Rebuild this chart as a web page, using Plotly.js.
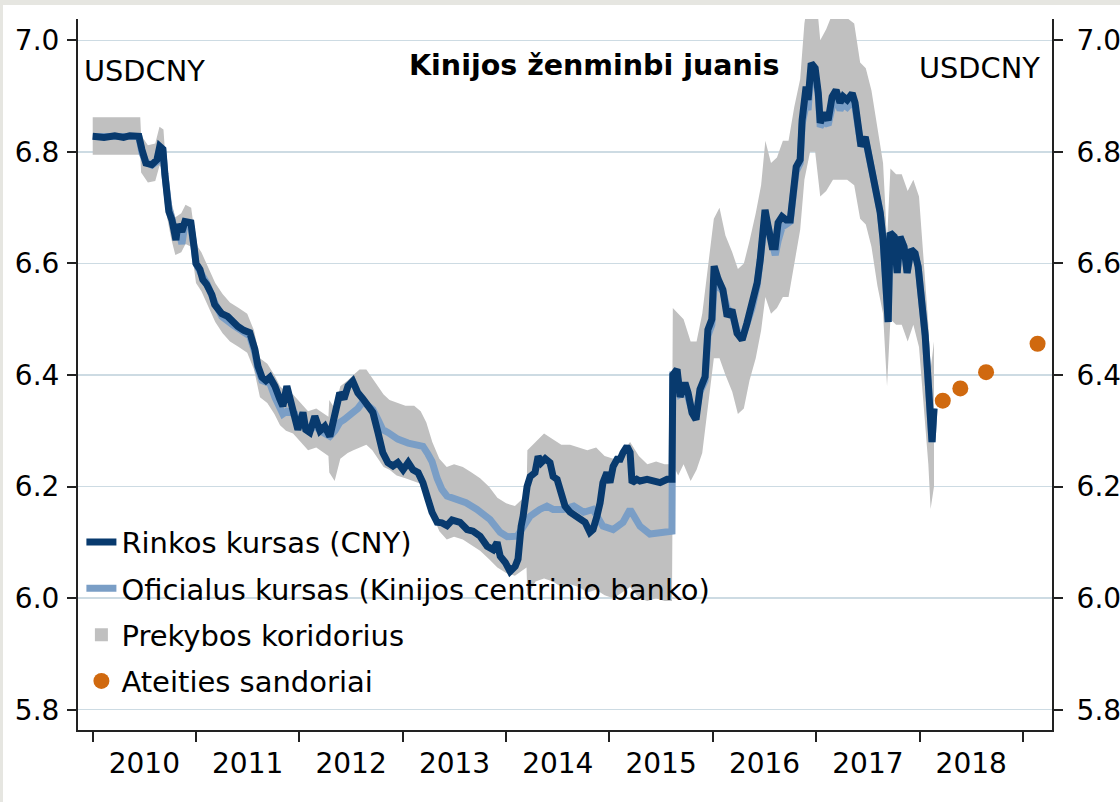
<!DOCTYPE html>
<html><head><meta charset="utf-8">
<script src="https://cdn.plot.ly/plotly-3.0.1.min.js"></script>
<style>
html,body{margin:0;padding:0;background:#e6e6e1;width:1120px;height:802px;overflow:hidden}
#chart{position:absolute;left:3px;top:5px;width:1117px;height:797px;background:#fff}
</style></head><body><div id="chart"></div>
<script>
// ---- Market rate (CNY) ----
const mktDates = [
'2010-01-01','2010-02-10','2010-03-20','2010-04-20','2010-05-12','2010-06-13','2010-06-24','2010-07-08','2010-07-29','2010-08-16','2010-08-26','2010-09-06','2010-09-13','2010-09-20','2010-09-27','2010-10-08','2010-10-15','2010-10-22','2010-10-29','2010-11-12','2010-11-23','2010-12-14','2010-12-25',
'2011-01-01','2011-01-15','2011-01-25','2011-02-08','2011-02-26','2011-03-08','2011-03-19','2011-04-02','2011-04-23','2011-05-11','2011-05-29','2011-06-19','2011-07-10','2011-07-28','2011-08-08','2011-08-22','2011-09-05','2011-09-19','2011-10-07','2011-10-24','2011-11-04','2011-11-18','2011-11-29','2011-12-16','2011-12-27',
'2012-01-14','2012-01-24','2012-02-07','2012-02-25','2012-03-14','2012-03-31','2012-04-18','2012-05-06','2012-05-23','2012-06-07','2012-06-21','2012-07-08','2012-07-26','2012-08-13','2012-08-31','2012-09-17','2012-10-05','2012-10-22','2012-11-09','2012-11-27','2012-12-14',
'2013-01-02','2013-01-20','2013-02-06','2013-02-24','2013-03-13','2013-03-31','2013-04-14','2013-05-02','2013-05-19','2013-06-06','2013-06-24','2013-07-22','2013-08-16','2013-09-06','2013-10-01','2013-10-26','2013-11-16','2013-11-30','2013-12-11','2013-12-29',
'2014-01-15','2014-02-02','2014-02-12','2014-02-23','2014-03-02','2014-03-16','2014-03-27','2014-04-13','2014-04-24','2014-05-05','2014-05-19','2014-06-05','2014-06-16','2014-06-30','2014-07-11','2014-07-28','2014-08-15','2014-09-02','2014-09-19','2014-10-07','2014-10-24','2014-11-04','2014-11-18','2014-11-29','2014-12-09','2014-12-23',
'2015-01-03','2015-01-14','2015-01-28','2015-02-08','2015-02-18','2015-03-04','2015-03-15','2015-03-22','2015-04-08','2015-04-19','2015-05-14','2015-06-04','2015-06-29','2015-07-24','2015-08-10','2015-08-13','2015-08-28','2015-09-08','2015-09-25','2015-10-06','2015-10-20','2015-11-03','2015-11-17','2015-12-05','2015-12-15','2015-12-29',
'2016-01-06','2016-01-20','2016-02-06','2016-02-21','2016-03-09','2016-03-27','2016-04-14','2016-05-01','2016-05-19','2016-06-06','2016-06-17','2016-06-27','2016-07-04','2016-07-15','2016-07-29','2016-08-09','2016-08-19','2016-09-02','2016-09-17','2016-10-01','2016-10-11','2016-10-22','2016-11-05','2016-11-12','2016-11-26','2016-12-03','2016-12-14','2016-12-28',
'2017-01-08','2017-01-15','2017-01-29','2017-02-12','2017-02-26','2017-03-12','2017-03-26','2017-04-06','2017-04-20','2017-05-08','2017-05-18','2017-05-29','2017-06-08','2017-06-23','2017-07-03','2017-07-17','2017-07-31','2017-08-15','2017-08-25','2017-09-05','2017-09-12','2017-09-19','2017-10-03','2017-10-14','2017-10-24','2017-11-07','2017-11-18','2017-12-02','2017-12-16','2017-12-27',
'2018-01-10','2018-01-21','2018-01-28','2018-02-04','2018-02-11','2018-02-14','2018-02-21'
];
const mktVals = [
6.828,6.826,6.829,6.826,6.829,6.828,6.804,6.78,6.777,6.786,6.81,6.805,6.76,6.714,6.693,6.678,6.65,6.642,6.67,6.657,6.675,6.673,6.63,
6.60,6.589,6.571,6.562,6.544,6.526,6.517,6.51,6.505,6.495,6.487,6.48,6.476,6.446,6.416,6.396,6.39,6.396,6.38,6.357,6.344,6.38,6.357,6.333,6.302,
6.333,6.302,6.297,6.326,6.30,6.308,6.29,6.338,6.368,6.357,6.38,6.389,6.368,6.357,6.344,6.333,6.297,6.261,6.243,6.237,6.243,
6.23,6.243,6.23,6.225,6.207,6.177,6.154,6.136,6.135,6.13,6.14,6.136,6.123,6.12,6.111,6.093,6.087,6.10,6.075,6.064,
6.048,6.057,6.07,6.129,6.147,6.20,6.218,6.225,6.254,6.243,6.25,6.243,6.218,6.213,6.189,6.165,6.154,6.147,6.141,6.136,6.118,6.123,6.147,6.171,6.207,6.225,
6.207,6.236,6.249,6.249,6.261,6.272,6.261,6.207,6.213,6.21,6.213,6.21,6.207,6.213,6.213,6.40,6.41,6.361,6.386,6.368,6.332,6.32,6.374,6.397,6.481,6.50,
6.595,6.572,6.553,6.505,6.517,6.475,6.463,6.493,6.529,6.565,6.607,6.67,6.696,6.666,6.63,6.63,6.673,6.684,6.678,6.678,6.727,6.773,6.786,6.857,6.917,6.893,6.959,6.95,
6.906,6.852,6.87,6.857,6.899,6.911,6.888,6.899,6.893,6.905,6.888,6.845,6.81,6.827,6.798,6.768,6.727,6.691,6.643,6.51,6.495,6.655,6.648,6.583,6.648,6.63,6.583,6.625,6.618,6.594,
6.529,6.47,6.415,6.34,6.29,6.28,6.34
];

// ---- Official rate (central bank fixing) ----
const offDates = [
'2010-01-01','2010-06-13','2010-06-24','2010-07-08','2010-07-29','2010-08-16','2010-08-26','2010-09-06','2010-09-13','2010-09-20','2010-09-27','2010-10-08','2010-10-15','2010-10-22','2010-10-29','2010-11-12','2010-11-23','2010-12-14','2010-12-25',
'2011-01-01','2011-01-15','2011-02-08','2011-03-08','2011-04-02','2011-05-11','2011-06-19','2011-07-10','2011-07-28','2011-08-08','2011-08-22','2011-09-19','2011-10-07','2011-10-24','2011-11-04','2011-11-18','2011-12-16','2011-12-27',
'2012-01-14','2012-02-07','2012-02-25','2012-03-14','2012-04-18','2012-05-06','2012-05-23','2012-06-07','2012-06-21','2012-07-08','2012-07-26','2012-08-13','2012-08-31','2012-09-17','2012-10-05','2012-10-22','2012-11-09','2012-12-14',
'2013-01-20','2013-02-24','2013-03-13','2013-03-31','2013-04-14','2013-05-02','2013-05-19','2013-06-06','2013-07-08','2013-08-12','2013-09-20','2013-11-05','2013-12-11',
'2014-01-05','2014-02-09','2014-03-02','2014-03-27','2014-04-30','2014-05-25','2014-06-16','2014-07-22','2014-08-28','2014-10-02','2014-11-04','2014-12-09',
'2015-01-14','2015-02-18','2015-03-15','2015-04-19','2015-05-24','2015-06-29','2015-08-10','2015-08-11','2015-08-13','2015-08-28','2015-09-08','2015-09-25','2015-10-06','2015-10-20','2015-11-03','2015-11-17','2015-12-05','2015-12-15','2015-12-29',
'2016-01-06','2016-01-20','2016-02-06','2016-02-21','2016-03-09','2016-03-27','2016-04-14','2016-05-01','2016-05-19','2016-06-06','2016-06-17','2016-06-27','2016-07-04','2016-07-15','2016-07-29','2016-08-09','2016-08-19','2016-09-02','2016-09-17','2016-10-01','2016-10-11','2016-10-22','2016-11-05','2016-11-12','2016-11-26','2016-12-03','2016-12-14','2016-12-28',
'2017-01-08','2017-01-15','2017-01-29','2017-02-12','2017-02-26','2017-03-12','2017-03-26','2017-04-06','2017-04-20','2017-05-08','2017-05-18','2017-05-29','2017-06-08','2017-06-23','2017-07-03','2017-07-17','2017-07-31','2017-08-15','2017-08-25','2017-09-05','2017-09-12','2017-09-19','2017-10-03','2017-10-14','2017-10-24','2017-11-07','2017-11-18','2017-12-02','2017-12-16','2017-12-27',
'2018-01-10','2018-01-21','2018-01-28','2018-02-04','2018-02-11','2018-02-14','2018-02-21'
];
const offVals = [
6.8275,6.8275,6.798,6.782,6.776,6.782,6.80,6.80,6.76,6.72,6.70,6.68,6.66,6.65,6.668,6.635,6.67,6.665,6.63,
6.60,6.585,6.565,6.53,6.505,6.49,6.475,6.47,6.44,6.41,6.39,6.385,6.36,6.345,6.33,6.335,6.33,6.31,
6.315,6.30,6.31,6.30,6.29,6.30,6.315,6.32,6.326,6.33,6.34,6.352,6.345,6.338,6.32,6.302,6.297,6.285,
6.278,6.275,6.272,6.258,6.245,6.215,6.195,6.183,6.177,6.171,6.159,6.141,6.118,
6.11,6.111,6.129,6.147,6.159,6.165,6.159,6.159,6.165,6.154,6.159,6.129,
6.123,6.136,6.159,6.129,6.115,6.118,6.12,6.23,6.40,6.40,6.365,6.37,6.36,6.335,6.33,6.37,6.39,6.47,6.49,
6.56,6.56,6.55,6.52,6.51,6.48,6.465,6.49,6.52,6.56,6.60,6.65,6.68,6.665,6.64,6.615,6.64,6.665,6.67,6.675,6.72,6.765,6.78,6.85,6.885,6.875,6.945,6.94,
6.90,6.845,6.855,6.848,6.88,6.895,6.875,6.885,6.88,6.89,6.88,6.84,6.81,6.825,6.798,6.768,6.727,6.691,6.643,6.51,6.495,6.655,6.648,6.583,6.648,6.63,6.583,6.625,6.618,6.594,
6.529,6.47,6.415,6.34,6.29,6.28,6.34
];

// ---- Trading corridor ----
const bandDates = [
'2010-01-01','2010-06-18','2010-06-21','2010-07-15','2010-08-10','2010-08-25','2010-09-08','2010-09-20','2010-10-05','2010-10-20','2010-11-10','2010-11-25','2010-12-15',
'2011-01-01','2011-01-20','2011-02-15','2011-03-10','2011-04-05','2011-05-01','2011-06-01','2011-07-01','2011-07-25','2011-08-15','2011-09-10','2011-10-05','2011-10-25','2011-11-15','2011-12-10',
'2012-01-05','2012-02-01','2012-03-01','2012-04-13','2012-04-16','2012-05-05','2012-05-25','2012-06-20','2012-07-10','2012-08-01','2012-08-25','2012-09-15','2012-10-05','2012-10-25','2012-11-15','2012-12-10',
'2013-01-10','2013-02-10','2013-03-05','2013-03-25','2013-04-15','2013-05-10','2013-06-05','2013-07-01','2013-08-01','2013-09-01','2013-10-01','2013-11-01','2013-12-01',
'2014-01-01','2014-02-01','2014-03-14','2014-03-17','2014-04-15','2014-05-15','2014-06-15','2014-07-15','2014-08-15','2014-09-15','2014-10-15','2014-11-15','2014-12-15',
'2015-01-15','2015-02-15','2015-03-15','2015-04-15','2015-05-15','2015-06-15','2015-07-15','2015-08-10','2015-08-13','2015-09-01','2015-09-20','2015-10-15','2015-11-05','2015-11-25','2015-12-15',
'2016-01-05','2016-01-25','2016-02-15','2016-03-10','2016-03-30','2016-04-20','2016-05-10','2016-06-01','2016-06-20','2016-07-05','2016-07-25','2016-08-15','2016-09-05','2016-09-25','2016-10-15','2016-11-05','2016-11-20','2016-12-10','2016-12-28',
'2017-01-15','2017-02-05','2017-03-01','2017-03-25','2017-04-20','2017-05-15','2017-06-05','2017-06-25','2017-07-15','2017-08-05','2017-08-25','2017-09-08','2017-09-20','2017-10-10','2017-10-30','2017-11-20','2017-12-10','2017-12-30',
'2018-01-15','2018-02-01','2018-02-09','2018-02-21'
];
const bandLow = [
6.795,6.795,6.763,6.745,6.748,6.775,6.77,6.685,6.645,6.615,6.62,6.635,6.63,
6.565,6.55,6.52,6.495,6.475,6.46,6.45,6.44,6.41,6.36,6.35,6.33,6.31,6.30,6.295,
6.28,6.265,6.27,6.255,6.225,6.21,6.25,6.26,6.265,6.27,6.275,6.265,6.25,6.235,6.23,6.22,
6.215,6.21,6.205,6.185,6.15,6.12,6.105,6.11,6.105,6.095,6.085,6.07,6.055,
6.045,6.04,6.055,6.005,6.03,6.035,6.03,6.02,6.025,6.02,6.01,6.015,6.005,
6.0,6.01,6.02,6.0,5.995,6.0,5.995,5.995,6.24,6.22,6.24,6.21,6.23,6.26,6.34,
6.43,6.43,6.40,6.37,6.33,6.34,6.39,6.43,6.48,6.54,6.51,6.52,6.54,6.54,6.60,6.66,6.75,6.80,6.80,
6.72,6.73,6.75,6.75,6.75,6.74,6.68,6.67,6.63,6.56,6.51,6.38,6.50,6.49,6.49,6.46,6.49,6.45,
6.35,6.24,6.16,6.20
];
const bandHigh = [
6.862,6.862,6.830,6.812,6.815,6.845,6.84,6.752,6.712,6.683,6.69,6.705,6.70,
6.635,6.62,6.59,6.565,6.545,6.53,6.52,6.51,6.48,6.43,6.42,6.40,6.38,6.37,6.365,
6.35,6.335,6.34,6.325,6.355,6.34,6.38,6.39,6.40,6.41,6.41,6.395,6.38,6.365,6.355,6.35,
6.345,6.345,6.335,6.315,6.28,6.25,6.235,6.24,6.235,6.225,6.215,6.20,6.18,
6.17,6.165,6.185,6.265,6.28,6.295,6.285,6.275,6.275,6.27,6.265,6.27,6.255,
6.25,6.26,6.28,6.255,6.24,6.245,6.24,6.24,6.52,6.51,6.50,6.46,6.46,6.51,6.59,
6.68,6.70,6.65,6.62,6.59,6.60,6.64,6.69,6.74,6.82,6.78,6.79,6.82,6.82,6.88,6.93,7.03,7.10,7.10,
7.0,7.02,7.05,7.05,7.04,7.03,6.96,6.95,6.91,6.84,6.78,6.64,6.77,6.76,6.76,6.73,6.75,6.72,
6.60,6.49,6.41,6.46
];

// ---- Forward contracts ----
const fwdDates = ['2018-03-24','2018-05-25','2018-08-24','2019-02-22'];
const fwdVals = [6.354,6.376,6.405,6.456];

// ---- Labels ----
const seriesNames = ['Rinkos kursas (CNY)','Oficialus kursas (Kinijos centrinio banko)','Prekybos koridorius','Ateities sandoriai'];
const chartTitle = 'Kinijos ženminbi juanis';
const pairLabel = 'USDCNY';

const FONT = 'DejaVu Sans, Verdana, sans-serif';
const C_MKT = '#083a6e', C_OFF = '#7a9ec6', C_BAND = '#c0c0c0', C_FWD = '#d0690f';
const yRange = [5.7636, 7.0382];

const traces = [
  {x: bandDates, y: bandLow, type:'scatter', mode:'lines', line:{width:0, color:C_BAND}, showlegend:false, hoverinfo:'skip'},
  {x: bandDates, y: bandHigh, type:'scatter', mode:'lines', line:{width:0, color:C_BAND}, fill:'tonexty', fillcolor:C_BAND, showlegend:false, hoverinfo:'skip'},
  {x: offDates, y: offVals, type:'scatter', mode:'lines', name:seriesNames[1], line:{color:C_OFF, width:7}, legendrank:2, legendgroup:'g2'},
  {x: mktDates, y: mktVals, type:'scatter', mode:'lines', name:seriesNames[0], line:{color:C_MKT, width:7}, legendrank:1, legendgroup:'g1'},
  {x: [bandDates[0]], y: [null], type:'scatter', mode:'markers', name:seriesNames[2], marker:{symbol:'square', size:13, color:C_BAND}, legendrank:3, legendgroup:'g3'},
  {x: fwdDates, y: fwdVals, type:'scatter', mode:'markers', name:seriesNames[3], marker:{color:C_FWD, size:16}, legendrank:4, legendgroup:'g4', yaxis:'y2'}
];

const yCommon = {range:yRange, dtick:0.2, tick0:5.8, tickformat:'.1f', ticks:'outside', ticklen:9, tickwidth:2, tickcolor:'#222',
  showline:true, linecolor:'#222', linewidth:2, zeroline:false, tickfont:{size:28, family:FONT, color:'#000'}, fixedrange:true};

const layout = {
  width:1117, height:797,
  margin:{l:75, r:68, t:14, b:72, pad:0},
  paper_bgcolor:'#ffffff', plot_bgcolor:'#ffffff',
  font:{family:FONT, size:28, color:'#000'},
  showlegend:true,
  xaxis:{type:'date', range:['2009-11-10','2019-04-14'], tick0:'2010-01-01', dtick:'M12', ticklabelmode:'period', tickformat:'%Y',
    ticks:'outside', ticklen:10, tickwidth:2, tickcolor:'#222', showline:true, linecolor:'#222', linewidth:2, showgrid:false, zeroline:false,
    tickfont:{size:28, family:FONT, color:'#000'}, fixedrange:true, ticklabelstandoff:-3},
  yaxis:Object.assign({}, yCommon, {showgrid:true, gridcolor:'#cddbe3', gridwidth:1.5, ticklabelstandoff:2}),
  yaxis2:Object.assign({}, yCommon, {overlaying:'y', side:'right', showgrid:false, ticklabelstandoff:8}),
  legend:{x:0.0035, y:0.3, xanchor:'left', yanchor:'top', bgcolor:'rgba(0,0,0,0)', borderwidth:0, font:{size:29, family:FONT, color:'#000'}, tracegroupgap:5.6, traceorder:'grouped'},
  annotations:[
    {xref:'paper', yref:'paper', x:0.5308, y:0.934, xanchor:'center', yanchor:'middle', showarrow:false, text:'<b>'+chartTitle+'</b>', font:{size:28.5, family:FONT, color:'#000'}},
    {xref:'paper', yref:'paper', x:0.004, y:0.927, xanchor:'left', yanchor:'middle', showarrow:false, text:pairLabel, font:{size:28.8, family:FONT, color:'#000'}},
    {xref:'paper', yref:'paper', x:0.99, y:0.931, xanchor:'right', yanchor:'middle', showarrow:false, text:pairLabel, font:{size:28.8, family:FONT, color:'#000'}}
  ]
};

Plotly.newPlot('chart', traces, layout, {displayModeBar:false, staticPlot:true});
</script></body></html>
